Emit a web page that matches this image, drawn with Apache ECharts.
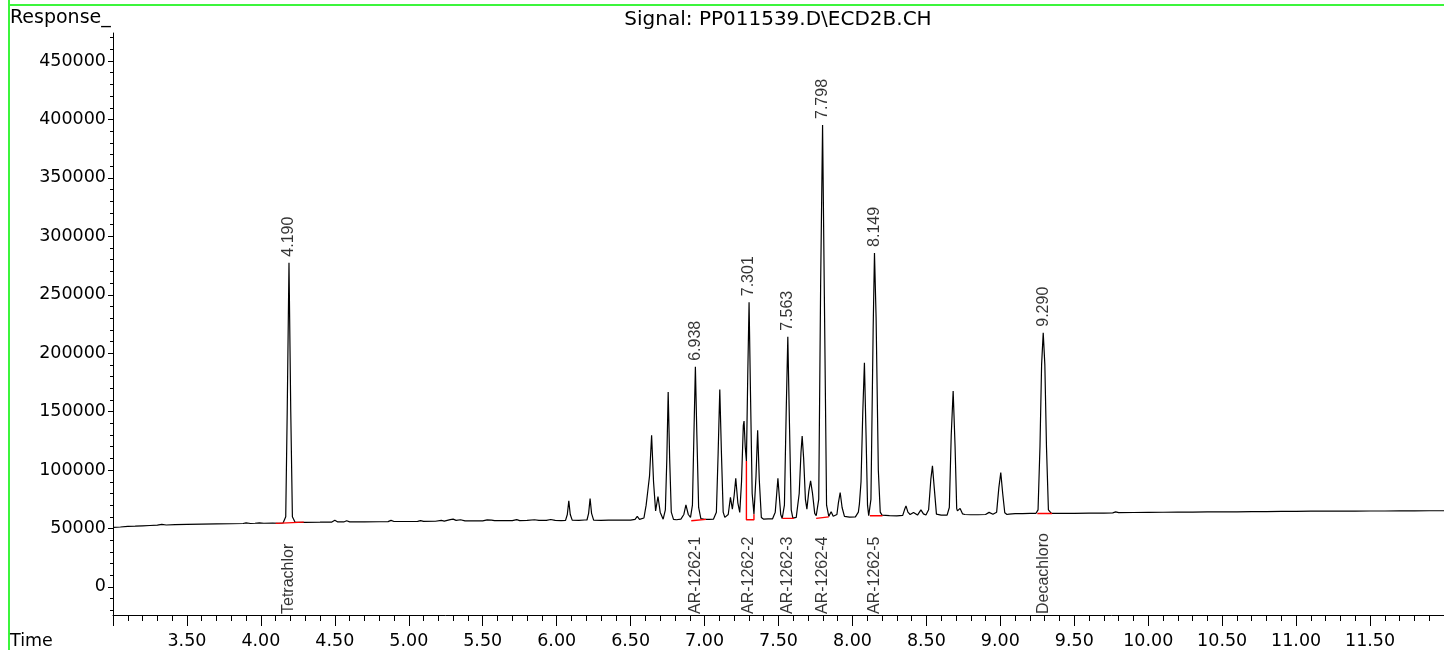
<!DOCTYPE html>
<html>
<head>
<meta charset="utf-8">
<script src="https://cdn.jsdelivr.net/npm/echarts@6/dist/echarts.min.js"></script>
<style>html,body{margin:0;padding:0;background:#fff}#c{width:1444px;height:650px}</style>
</head>
<body>
<div id="c"></div>
<script>
// ---- data ----
const titleText = 'Signal: PP011539.D\\ECD2B.CH';
const yTickValues = [0, 50000, 100000, 150000, 200000, 250000, 300000, 350000, 400000, 450000];
// trace points [time (min), response]
const trace = [
 [3.00,51000],[3.05,51300],[3.10,51800],[3.15,52000],[3.20,52300],[3.25,52600],[3.30,52900],[3.33,53500],[3.36,53000],[3.42,53300],
 [3.50,53600],[3.60,53800],[3.70,54000],[3.80,54100],[3.88,54300],[3.90,54900],[3.93,54300],[3.96,54500],[3.99,54900],[4.02,54500],
 [4.08,54600],[4.12,54500],[4.15,54700],
 [4.168,60000],[4.178,150000],[4.190,277500],[4.202,150000],[4.213,60000],[4.232,55200],
 [4.30,55300],[4.40,55400],[4.48,55500],[4.50,57000],[4.52,55600],[4.56,55600],[4.58,56600],[4.60,55700],[4.70,55700],[4.80,55800],
 [4.86,55900],[4.88,57000],[4.90,56000],[5.00,56000],[5.06,56100],[5.08,56800],[5.10,56100],[5.18,56200],[5.22,56900],[5.24,56300],
 [5.28,57600],[5.30,58000],[5.32,57000],[5.35,57500],[5.38,56600],[5.45,56500],[5.50,56600],[5.53,57400],[5.56,57200],[5.58,56700],
 [5.65,56700],[5.70,56800],[5.73,57600],[5.75,56800],[5.80,56900],[5.85,57500],[5.88,56900],[5.93,57000],[5.96,57700],[5.99,56900],[6.03,56700],
 [6.06,57000],[6.072,62000],[6.082,73700],[6.092,62000],[6.105,57200],
 [6.15,57000],[6.19,57300],
 [6.205,57300],[6.216,63000],[6.226,75700],[6.236,63000],[6.25,57200],
 [6.30,57000],[6.35,57200],[6.40,57100],[6.45,57300],[6.50,57200],[6.53,57800],[6.545,60300],[6.56,57800],[6.59,59000],
 [6.605,70000],[6.615,80800],[6.628,95000],[6.642,129800],[6.655,90000],[6.669,65100],[6.685,77400],[6.70,64000],[6.72,58000],
 [6.735,66000],[6.745,110000],[6.754,166700],[6.764,110000],[6.775,64000],[6.79,57800],[6.81,57500],[6.84,58000],[6.86,62000],
 [6.874,70300],[6.89,62000],[6.905,59500],[6.918,70000],[6.928,130000],[6.938,188400],[6.948,130000],[6.96,68000],[6.975,58500],
 [7.00,57800],[7.03,57800],[7.06,58000],[7.08,64000],[7.092,115000],[7.103,169000],[7.114,115000],[7.126,64000],[7.137,59500],
 [7.16,62000],[7.175,76600],[7.188,66600],[7.20,78000],[7.211,93000],[7.225,72000],[7.238,63800],[7.25,90000],[7.262,138000],
 [7.267,142000],[7.275,120000],[7.283,107800],[7.292,180000],[7.301,243600],[7.31,170000],[7.322,80000],[7.334,62300],
 [7.348,95000],[7.359,134000],[7.37,92000],[7.384,59500],[7.40,58000],[7.43,58200],[7.46,58300],[7.478,64000],[7.488,80000],
 [7.496,93000],[7.505,78000],[7.515,62000],[7.525,58600],[7.54,70000],[7.552,150000],[7.563,214000],[7.574,140000],[7.586,66000],
 [7.597,58900],[7.62,59500],[7.64,80000],[7.652,115000],[7.66,129200],[7.67,110000],[7.682,75000],[7.692,66600],[7.705,82000],
 [7.717,90800],[7.73,80000],[7.745,63000],[7.755,60900],[7.772,75000],[7.785,260000],[7.798,395300],[7.81,250000],[7.825,70000],
 [7.84,60400],[7.856,64300],[7.87,60500],[7.895,62000],[7.905,72000],[7.917,80800],[7.93,68000],[7.946,60400],[7.98,59800],
 [8.02,60000],[8.04,64000],[8.047,70900],[8.058,90000],[8.070,150000],[8.081,191800],[8.092,130000],[8.102,70000],[8.110,60900],
 [8.125,75000],[8.140,220000],[8.149,285800],[8.16,230000],[8.175,100000],[8.188,64000],[8.20,61500],[8.25,61000],[8.30,60900],
 [8.34,61200],[8.352,66000],[8.362,69400],[8.375,64000],[8.39,62000],[8.413,63800],[8.44,61500],[8.463,66000],[8.48,62500],
 [8.497,61500],[8.515,66000],[8.53,92000],[8.541,103600],[8.553,85000],[8.568,62300],[8.60,61500],[8.64,61500],[8.655,68000],
 [8.668,130000],[8.681,167600],[8.694,120000],[8.705,67000],[8.71,65100],[8.728,67200],[8.745,62500],[8.76,62000],[8.80,61800],
 [8.85,61800],[8.90,62000],[8.924,63800],[8.95,62200],[8.975,64000],[8.99,85000],[9.003,97900],[9.016,80000],[9.03,63500],
 [9.045,62000],[9.059,62300],[9.10,62700],[9.15,62800],[9.20,62900],[9.24,62900],[9.255,66000],[9.268,120000],[9.279,190000],
 [9.29,217500],[9.301,190000],[9.312,120000],[9.325,66000],[9.345,62900],[9.40,62900],[9.50,63000],[9.60,63100],[9.70,63200],
 [9.76,63400],[9.78,64200],[9.80,63600],[9.90,63700],[10.0,63800],[10.1,63900],[10.2,64000],[10.3,64100],[10.4,64200],[10.5,64300],
 [10.6,64300],[10.7,64400],[10.8,64500],[10.9,64600],[11.0,64700],[11.1,64800],[11.2,64800],[11.3,64900],[11.4,64900],[11.5,65000],
 [11.6,65000],[11.7,65100],[11.8,65100],[11.9,65200],[12.0,65200]
];
// integration baselines (red)
const baselines = [
 [[4.10,54400],[4.29,55500]],
 [[6.91,56600],[7.01,57800]],
 [[7.283,107800],[7.283,57500],[7.334,57500],[7.334,62300]],
 [[7.526,58700],[7.604,58700]],
 [[7.755,58700],[7.84,60000]],
 [[8.118,60900],[8.203,60900]],
 [[9.25,62900],[9.35,62900]]
];
// retention-time labels
const rtTimes = [4.190, 6.938, 7.301, 7.563, 7.798, 8.149, 9.290];
const rtApex  = [277500, 188400, 243600, 214000, 395300, 285800, 217500];
// compound names
const compoundNames = ['Tetrachlor','AR-1262-1','AR-1262-2','AR-1262-3','AR-1262-4','AR-1262-5','Decachloro'];
const compoundTimes = [4.190, 6.938, 7.301, 7.563, 7.798, 8.149, 9.290];

const Y_MIN = -24000, Y_MAX = 474000;
const minorY = [];
for (let v = -20000; v <= 470000; v += 10000) minorY.push(v);

const HFONT = 'DejaVu Sans';
const RFONT = 'Liberation Sans';

const chart = echarts.init(document.getElementById('c'), null, {renderer: 'canvas'});

const series = [{
  type: 'line', data: trace, symbol: 'none', animation: false,
  lineStyle: {color: '#000', width: 1.2}, z: 2
}];
baselines.forEach(seg => series.push({
  type: 'line', data: seg, symbol: 'none', animation: false,
  lineStyle: {color: '#ff0000', width: 1.4}, z: 3
}));
series.push({
  type: 'scatter', symbolSize: 0, animation: false, z: 4, silent: true,
  data: rtTimes.map((t, i) => [t, rtApex[i]]),
  label: {show: true, position: 'top', distance: 6, rotate: 90, align: 'left', verticalAlign: 'middle',
    formatter: p => p.value[0].toFixed(3), fontFamily: RFONT, fontSize: 16, color: '#000'}
});
series.push({
  type: 'scatter', symbolSize: 0, animation: false, z: 4, silent: true,
  data: compoundTimes.map(t => [t, Y_MIN]),
  label: {show: true, position: 'top', distance: 1, rotate: 90, align: 'left', verticalAlign: 'middle',
    formatter: p => compoundNames[p.dataIndex], fontFamily: RFONT, fontSize: 16, color: '#000'}
});

chart.setOption({
  animation: false,
  backgroundColor: '#fff',
  grid: {left: 113, right: 0, top: 33, bottom: 34, containLabel: false},
  xAxis: {
    type: 'value', min: 3, max: 12, interval: 0.5,
    axisLine: {show: true, onZero: false, lineStyle: {color: '#000', width: 1}},
    axisTick: {show: true, length: 11, lineStyle: {color: '#000'}},
    minorTick: {show: true, splitNumber: 5, length: 6, lineStyle: {color: '#000'}},
    splitLine: {show: false}, minorSplitLine: {show: false},
    axisLabel: {showMinLabel: false, showMaxLabel: false, formatter: v => v.toFixed(2),
      fontFamily: HFONT, fontSize: 17.5, color: '#000', margin: 17}
  },
  yAxis: [{
    type: 'value', min: Y_MIN, max: Y_MAX,
    axisLine: {show: true, onZero: false, lineStyle: {color: '#000', width: 1}},
    axisTick: {show: true, length: 5, customValues: yTickValues, lineStyle: {color: '#000'}},
    splitLine: {show: false},
    axisLabel: {customValues: yTickValues, formatter: v => String(v), fontFamily: HFONT, fontSize: 17.5, color: '#000', margin: 7}
  }, {
    type: 'value', min: Y_MIN, max: Y_MAX, position: 'left',
    axisLine: {show: false, onZero: false},
    axisTick: {show: true, length: 3, customValues: minorY, lineStyle: {color: '#000'}},
    splitLine: {show: false},
    axisLabel: {show: false}
  }],
  graphic: [
    {type: 'line', shape: {x1: 9, y1: 0, x2: 9, y2: 650}, style: {stroke: '#3cf53c', lineWidth: 2}, silent: true},
    {type: 'line', shape: {x1: 9, y1: 5, x2: 1444, y2: 5}, style: {stroke: '#3cf53c', lineWidth: 2}, silent: true},
    {type: 'text', x: 10, y: 18, style: {text: 'Response_', fontFamily: HFONT, fontSize: 19, fill: '#000', textVerticalAlign: 'middle'}},
    {type: 'text', x: 778, y: 20, style: {text: titleText, fontFamily: HFONT, fontSize: 20, fill: '#000', textAlign: 'center', textVerticalAlign: 'middle'}},
    {type: 'text', x: 10, y: 641, style: {text: 'Time', fontFamily: HFONT, fontSize: 17.5, fill: '#000', textVerticalAlign: 'middle'}}
  ],
  series: series
});
</script>
</body>
</html>
